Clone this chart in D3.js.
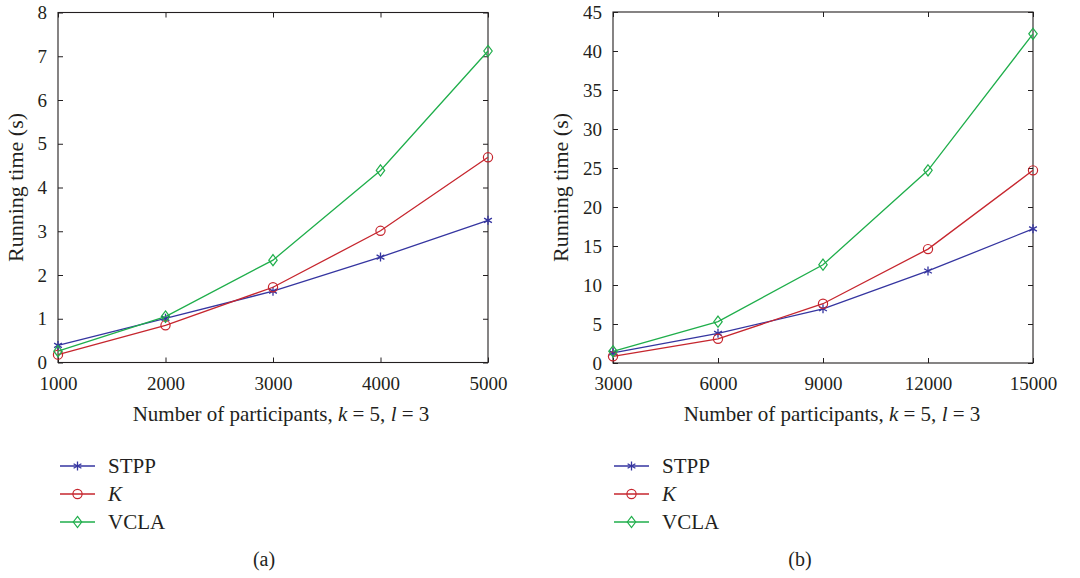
<!DOCTYPE html>
<html>
<head>
<meta charset="utf-8">
<script src="https://cdn.jsdelivr.net/npm/d3@7"></script>
<style>
  body { margin: 0; background: #fff; }
  svg text { font-family: "Liberation Serif", "DejaVu Serif", serif; fill: #231f20; }
</style>
</head>
<body>
<div id="chart-area"></div>
<script>
// data
const seriesNames = ["STPP", "K", "VCLA"];
const colors = ["#3535a0", "#c6262e", "#1fae4b"];
const markers = ["star", "circle", "diamond"];

const xA = [1000, 2000, 3000, 4000, 5000];
const stppA = [0.39, 1.01, 1.63, 2.41, 3.25];
const kA = [0.18, 0.85, 1.72, 3.01, 4.69];
const vclaA = [0.26, 1.05, 2.34, 4.39, 7.12];
const yTicksA = [0, 1, 2, 3, 4, 5, 6, 7, 8];

const xB = [3000, 6000, 9000, 12000, 15000];
const stppB = [1.3, 3.8, 6.95, 11.8, 17.2];
const kB = [0.85, 3.1, 7.6, 14.6, 24.7];
const vclaB = [1.5, 5.3, 12.6, 24.7, 42.2];
const yTicksB = [0, 5, 10, 15, 20, 25, 30, 35, 40, 45];

const W = 1080, H = 578;
const svg = d3.select("#chart-area").append("svg")
    .attr("width", W)
    .attr("height", H);

function marker(g, type, color) {
    if (type === "circle") {
        g.append("circle").attr("r", 4.6).attr("fill", "none").attr("stroke", color).attr("stroke-width", 1.2);
    } else if (type === "diamond") {
        g.append("path").attr("d", "M0,-5.6L4.2,0L0,5.6L-4.2,0Z")
            .attr("fill", "none").attr("stroke", color).attr("stroke-width", 1.2);
    } else {
        // asterisk
        const r = 4.5;
        let d = "";
        [90, 30, 150].forEach(a => {
            const rad = a * Math.PI / 180;
            const dx = r * Math.cos(rad), dy = r * Math.sin(rad);
            d += `M${-dx},${-dy}L${dx},${dy}`;
        });
        g.append("path").attr("d", d).attr("stroke", color).attr("stroke-width", 1.3).attr("fill", "none");
    }
}

function drawPanel(opts) {
    const { left, right, top, bottom, xs, series, yMax, yTicks, labelX, yLabelX, tag, tagX, legendX } = opts;

    const x = d3.scaleLinear().domain([xs[0], xs[xs.length - 1]]).range([left, right]);
    const y = d3.scaleLinear().domain([0, yMax]).range([bottom, top]);

    const g = svg.append("g");

    // axes with inward ticks, mirrored on top/right
    g.append("g")
        .attr("transform", `translate(0,${bottom})`)
        .call(d3.axisBottom(x).tickValues(xs).tickSize(-5).tickPadding(14).tickFormat(d3.format("d")))
        .call(a => a.select(".domain").remove());
    g.append("g")
        .attr("transform", `translate(0,${top})`)
        .call(d3.axisTop(x).tickValues(xs).tickSize(-5).tickFormat(""))
        .call(a => a.select(".domain").remove());
    g.append("g")
        .attr("transform", `translate(${left},0)`)
        .call(d3.axisLeft(y).tickValues(yTicks).tickSize(-5).tickPadding(11).tickFormat(d3.format("d")))
        .call(a => a.select(".domain").remove());
    g.append("g")
        .attr("transform", `translate(${right},0)`)
        .call(d3.axisRight(y).tickValues(yTicks).tickSize(-5).tickFormat(""))
        .call(a => a.select(".domain").remove());

    g.selectAll(".tick line").attr("stroke", "#231f20").attr("stroke-width", 1);
    g.selectAll(".tick text").attr("font-size", 19).attr("font-family", "Liberation Serif, serif").attr("fill", "#231f20");

    g.append("rect")
        .attr("x", left).attr("y", top)
        .attr("width", right - left).attr("height", bottom - top)
        .attr("fill", "none").attr("stroke", "#231f20").attr("stroke-width", 1.1);

    const line = d3.line().x(d => x(d[0])).y(d => y(d[1]));

    series.forEach((vals, i) => {
        const pts = xs.map((v, j) => [v, vals[j]]);
        g.append("path").datum(pts)
            .attr("d", line)
            .attr("fill", "none")
            .attr("stroke", colors[i])
            .attr("stroke-width", 1.3);
        pts.forEach(p => {
            const m = g.append("g").attr("transform", `translate(${x(p[0])},${y(p[1])})`);
            marker(m, markers[i], colors[i]);
        });
    });

    // y label
    g.append("text")
        .attr("transform", `translate(${yLabelX},${(top + bottom) / 2}) rotate(-90)`)
        .attr("text-anchor", "middle")
        .attr("font-size", 22)
        .text("Running time (s)");

    // x label
    const xl = g.append("text")
        .attr("x", labelX).attr("y", 421)
        .attr("text-anchor", "middle")
        .attr("font-size", 21);
    xl.append("tspan").text("Number of participants, ");
    xl.append("tspan").attr("font-style", "italic").text("k");
    xl.append("tspan").text(" = 5, ");
    xl.append("tspan").attr("font-style", "italic").text("l");
    xl.append("tspan").text(" = 3");

    // legend
    const rowY = [466, 494, 522];
    seriesNames.forEach((name, i) => {
        const lg = g.append("g").attr("transform", `translate(${legendX},${rowY[i]})`);
        lg.append("line").attr("x1", 0).attr("x2", 35).attr("y1", 0).attr("y2", 0)
            .attr("stroke", colors[i]).attr("stroke-width", 1.3);
        marker(lg.append("g").attr("transform", "translate(17.5,0)"), markers[i], colors[i]);
        lg.append("text")
            .attr("x", 48).attr("y", 7)
            .attr("font-size", 21)
            .attr("font-style", name === "K" ? "italic" : "normal")
            .text(name);
    });

    g.append("text")
        .attr("x", tagX).attr("y", 566)
        .attr("text-anchor", "middle")
        .attr("font-size", 20)
        .text(tag);
}

drawPanel({
    left: 58, right: 488, top: 12.5, bottom: 362.5,
    xs: xA, series: [stppA, kA, vclaA], yMax: 8, yTicks: yTicksA,
    labelX: 281, yLabelX: 23, tag: "(a)", tagX: 264, legendX: 60
});

drawPanel({
    left: 613, right: 1033, top: 12, bottom: 363,
    xs: xB, series: [stppB, kB, vclaB], yMax: 45, yTicks: yTicksB,
    labelX: 832, yLabelX: 568, tag: "(b)", tagX: 800, legendX: 614
});
</script>
</body>
</html>
